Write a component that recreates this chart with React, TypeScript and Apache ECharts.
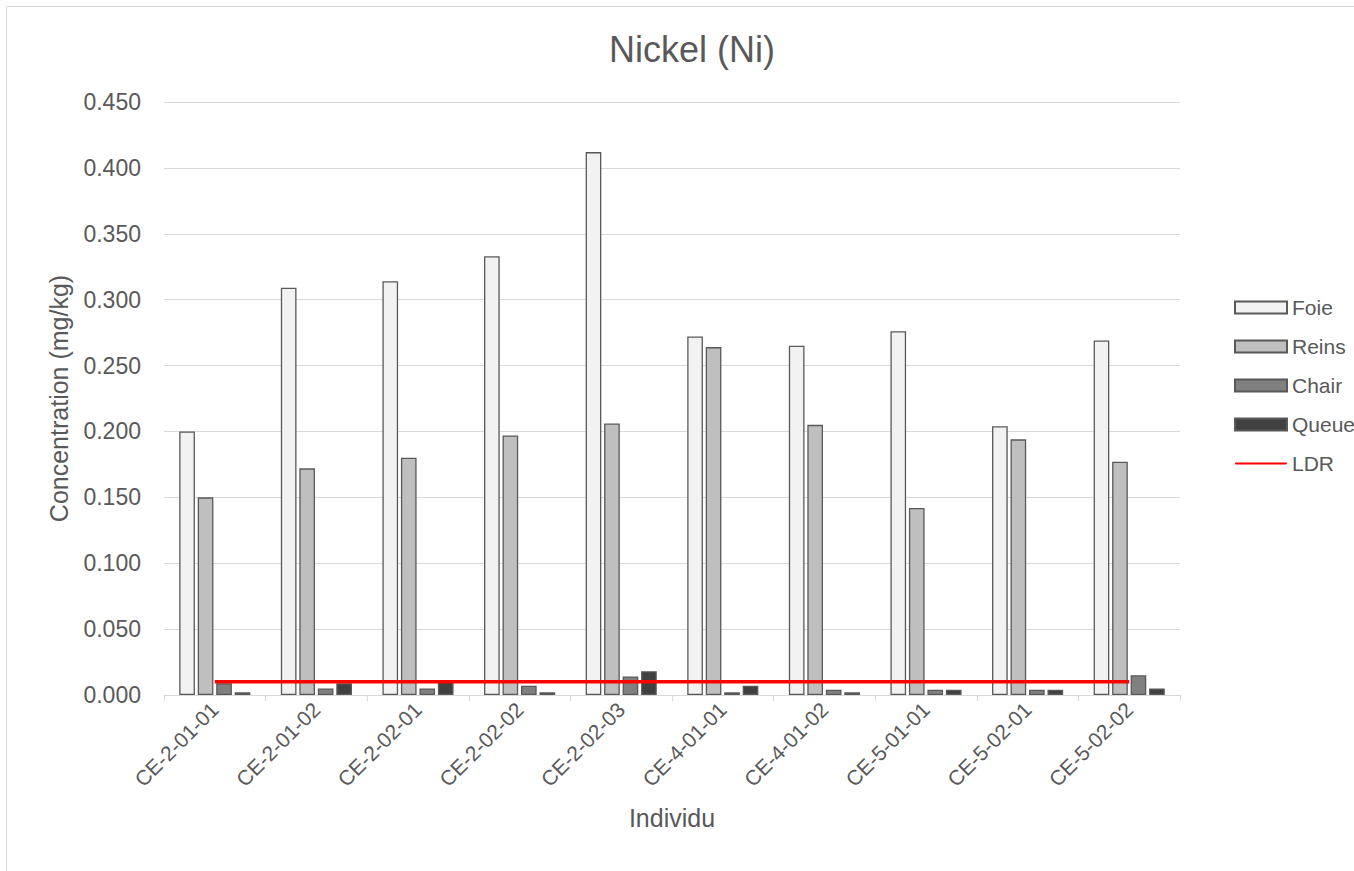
import React, { useEffect, useRef } from "react";
import * as echarts from "echarts";

const categories = ["CE-2-01-01", "CE-2-01-02", "CE-2-02-01", "CE-2-02-02", "CE-2-02-03", "CE-4-01-01", "CE-4-01-02", "CE-5-01-01", "CE-5-02-01", "CE-5-02-02"];
const foie = [0.200, 0.309, 0.314, 0.333, 0.412, 0.272, 0.265, 0.276, 0.204, 0.269];
const reins = [0.150, 0.172, 0.180, 0.197, 0.206, 0.264, 0.205, 0.142, 0.194, 0.177];
const chair = [0.009, 0.005, 0.005, 0.007, 0.014, 0.002, 0.004, 0.004, 0.004, 0.015];
const queue = [0.002, 0.009, 0.011, 0.002, 0.018, 0.007, 0.002, 0.004, 0.004, 0.005];
const ldr = [0.010, 0.010, 0.010, 0.010, 0.010, 0.010, 0.010, 0.010, 0.010, 0.010];

const FONT = "'Liberation Sans', Arial, sans-serif";
const TXT = "#595959";

export default function App() {
  const ref = useRef<HTMLDivElement>(null);
  useEffect(() => {
    document.body.style.margin = "0";
    const chart = echarts.init(ref.current!, null, { renderer: "svg" });
    const bar = (name: string, data: number[], color: string) => ({
      name,
      type: "bar",
      data,
      barGap: "18%",
      barCategoryGap: "30%",
      itemStyle: { color, borderColor: "#595959", borderWidth: 1.3 },
    });
    chart.setOption({
      animation: false,
      textStyle: { fontFamily: FONT, color: TXT },
      graphic: [
        {
          type: "rect",
          shape: { x: 6.5, y: 6.5, width: 1400, height: 900 },
          style: { fill: "none", stroke: "#d9d9d9", lineWidth: 1 },
          silent: true,
        },
      ],
      title: {
        text: "Nickel (Ni)",
        left: 687,
        textAlign: "center",
        top: 26,
        textStyle: { fontFamily: FONT, fontSize: 36, fontWeight: "normal", color: TXT },
      },
      legend: {
        orient: "vertical",
        left: 1229,
        top: 292,
        itemGap: 18,
        itemWidth: 52,
        itemHeight: 12,
        textStyle: { fontFamily: FONT, fontSize: 21, lineHeight: 21, color: TXT },
        data: [
          { name: "Foie", icon: "rect" },
          { name: "Reins", icon: "rect" },
          { name: "Chair", icon: "rect" },
          { name: "Queue", icon: "rect" },
          {
            name: "LDR",
            icon: "path://M2,0 L98,0 C100.5,0 101,3 98,3.5 L2,3.5 C-0.5,3.5 -1,0 2,0 Z",
            itemStyle: { color: "#ff0000", borderWidth: 0 },
          },
        ],
      },
      grid: { left: 164, right: 174, top: 102, bottom: 176, containLabel: false },
      xAxis: {
        type: "category",
        data: categories,
        name: "Individu",
        nameLocation: "middle",
        nameGap: 110,
        nameMoveOverlap: false,
        nameTextStyle: { fontFamily: FONT, fontSize: 25, color: TXT },
        axisLine: { lineStyle: { color: "#d9d9d9", width: 1 } },
        axisTick: { show: true, length: 6, lineStyle: { color: "#d9d9d9" } },
        axisLabel: { rotate: 45, fontFamily: FONT, fontSize: 21, color: TXT, margin: 11 },
      },
      yAxis: {
        type: "value",
        min: 0,
        max: 0.45,
        interval: 0.05,
        name: "Concentration (mg/kg)",
        nameLocation: "middle",
        nameGap: 93,
        nameMoveOverlap: false,
        nameTextStyle: { fontFamily: FONT, fontSize: 25, color: TXT },
        axisLine: { show: false },
        axisTick: { show: false },
        splitLine: { lineStyle: { color: "#d9d9d9", width: 1 } },
        axisLabel: {
          fontFamily: FONT,
          fontSize: 23,
          color: TXT,
          margin: 23,
          formatter: (v: number) => v.toFixed(3),
        },
      },
      series: [
        bar("Foie", foie, "#f2f2f2"),
        bar("Reins", reins, "#bfbfbf"),
        bar("Chair", chair, "#808080"),
        bar("Queue", queue, "#404040"),
        {
          name: "LDR",
          type: "line",
          data: ldr,
          symbol: "none",
          lineStyle: { color: "#ff0000", width: 3.5 },
          itemStyle: { color: "#ff0000" },
          z: 5,
        },
      ],
    });
    return () => chart.dispose();
  }, []);
  return <div ref={ref} style={{ width: 1354, height: 871 }} />;
}
